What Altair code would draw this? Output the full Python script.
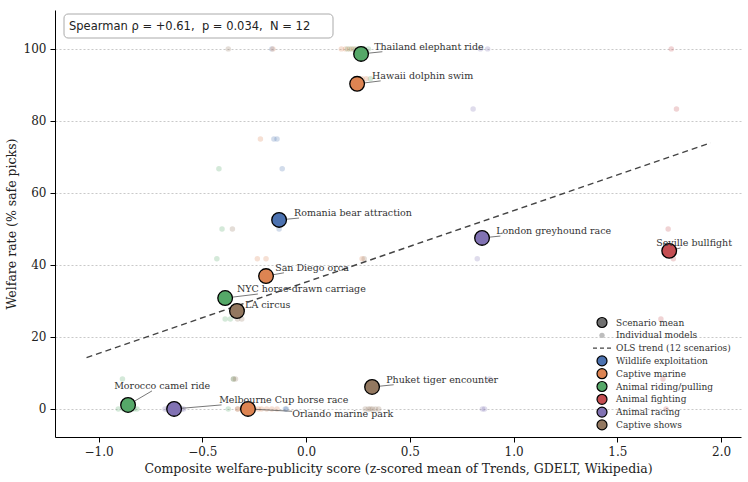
import altair as alt
import numpy as np
import pandas as pd

# ---- scenario-level data -------------------------------------------------
scenarios = [
    "Thailand elephant ride", "Hawaii dolphin swim", "Romania bear attraction",
    "London greyhound race", "Seville bullfight", "San Diego orca",
    "NYC horse-drawn carriage", "LA circus", "Phuket tiger encounter",
    "Morocco camel ride", "Melbourne Cup horse race", "Orlando marine park",
]
categories = [
    "Animal riding/pulling", "Captive marine", "Wildlife exploitation",
    "Animal racing", "Animal fighting", "Captive marine",
    "Animal riding/pulling", "Captive shows", "Captive shows",
    "Animal riding/pulling", "Animal racing", "Captive marine",
]
publicity = [0.265, 0.246, -0.130, 0.848, 1.750, -0.193, -0.390, -0.333, 0.318, -0.858, -0.636, -0.280]
welfare = [98.6, 90.3, 52.5, 47.5, 43.9, 36.9, 30.8, 27.2, 6.1, 1.1, 0.0, 0.0]

# ---- per-model safe-pick rates (x carries a small horizontal jitter) -----
model_x = {
    "Thailand elephant ride": [0.20, 0.22, 0.24, 0.26, 0.28, 0.30, 0.31],
    "Hawaii dolphin swim": [0.17, 0.19, 0.21, 0.23, 0.27, 0.29, 0.27],
    "Romania bear attraction": [-0.165, -0.155, -0.14, -0.115, -0.13, -0.10, -0.095],
    "London greyhound race": [0.84, 0.875, 0.805, 0.825, 0.885, 0.85, 0.86],
    "Seville bullfight": [1.76, 1.785, 1.745, 1.77, 1.71, 1.72, 1.735],
    "San Diego orca": [-0.16, -0.22, -0.235, -0.193, -0.19, -0.165, -0.14],
    "NYC horse-drawn carriage": [-0.42, -0.405, -0.43, -0.39, -0.365, -0.35, -0.375],
    "LA circus": [-0.375, -0.355, -0.33, -0.31, -0.34, -0.35, -0.33, -0.30],
    "Phuket tiger encounter": [0.28, 0.285, 0.30, 0.31, 0.32, 0.335, 0.35],
    "Morocco camel ride": [-0.885, -0.905, -0.88, -0.86, -0.845, -0.83, -0.815],
    "Melbourne Cup horse race": [-0.68, -0.665, -0.65, -0.635, -0.62, -0.60, -0.59],
    "Orlando marine park": [-0.33, -0.31, -0.29, -0.27, -0.25, -0.23, -0.215],
}
model_y = {
    "Thailand elephant ride": [100, 100, 100, 100, 100, 100, 91.7],
    "Hawaii dolphin swim": [100, 100, 100, 100, 91.7, 91.7, 41.7],
    "Romania bear attraction": [100, 75, 75, 66.7, 50, 0, 0],
    "London greyhound race": [100, 100, 83.3, 41.7, 8.3, 0, 0],
    "Seville bullfight": [100, 83.3, 50, 41.7, 25, 8.3, 0],
    "San Diego orca": [100, 75, 41.7, 41.7, 0, 0, 0],
    "NYC horse-drawn carriage": [66.7, 50, 41.7, 25, 25, 8.3, 0],
    "LA circus": [100, 50, 25, 25, 8.3, 8.3, 0, 0],
    "Phuket tiger encounter": [41.7, 0, 0, 0, 0, 0, 0],
    "Morocco camel ride": [8.3, 0, 0, 0, 0, 0, 0],
    "Melbourne Cup horse race": [0, 0, 0, 0, 0, 0, 0],
    "Orlando marine park": [0, 0, 0, 0, 0, 0, 0],
}

cat_order = ["Wildlife exploitation", "Captive marine", "Animal riding/pulling",
             "Animal fighting", "Animal racing", "Captive shows"]
cat_colors = ["#4C72B0", "#DD8452", "#55A868", "#C44E52", "#8172B3", "#937860"]

x_ticks = [-1.0, -0.5, 0.0, 0.5, 1.0, 1.5, 2.0]
y_ticks = [0, 20, 40, 60, 80, 100]
GAP = "\u00a0\u00a0"
stats_text = f"Spearman \u03c1 = +0.61,{GAP}p = 0.034,{GAP}N = 12"

# ---- layout --------------------------------------------------------------
W, H = 686, 427
x_dom = [-1.21, 2.096]
y_dom = [-7.8, 110.8]
SERIF = "DejaVu Serif"


def x_to_px(x):
    return (x - x_dom[0]) / (x_dom[1] - x_dom[0]) * W


def y_to_py(y):
    return (y_dom[1] - y) / (y_dom[1] - y_dom[0]) * H


def px_to_x(px):
    return x_dom[0] + px / W * (x_dom[1] - x_dom[0])


def py_to_y(py):
    return y_dom[1] - py / H * (y_dom[1] - y_dom[0])


# label anchor positions (left edge / vertical centre of each text)
label_x = [0.328, 0.318, -0.058, 0.916, 1.687, -0.149, -0.333, -0.294, 0.386, -0.925, -0.419, -0.067]
label_y = [100.6, 92.5, 54.4, 49.4, 46.1, 39.2, 33.3, 28.9, 8.1, 6.4, 2.5, -1.4]
CHAR_W = 5.15
HALF_H = 5.0

# ---- frames --------------------------------------------------------------
means = pd.DataFrame({
    "scenario": scenarios, "category": categories,
    "x": publicity, "y": welfare, "lx": label_x, "ly": label_y,
})

rows = []
for s, c in zip(scenarios, categories):
    for xv, yv in zip(model_x[s], model_y[s]):
        rows.append({"scenario": s, "category": c, "x": xv, "y": yv})
models = pd.DataFrame(rows)

# OLS trend across the scenario means
slope, intercept = np.polyfit(publicity, welfare, 1)
tx = np.array([min(publicity) - 0.2, max(publicity) + 0.2])
trend = pd.DataFrame({"x": tx, "y": intercept + slope * tx})

# leader lines from each marker to the edge of its label box
leaders = []
for s, mx, my, lx, ly in zip(scenarios, publicity, welfare, label_x, label_y):
    px, py = x_to_px(mx), y_to_py(my)
    w = len(s) * CHAR_W
    cx, cy = x_to_px(lx) + w / 2, y_to_py(ly)
    dx, dy = px - cx, py - cy
    sx = (w / 2) / abs(dx) if dx else np.inf
    sy = HALF_H / abs(dy) if dy else np.inf
    f = min(sx, sy)
    if f >= 1:
        continue
    ex, ey = cx + f * dx, cy + f * dy
    leaders.append({"x": mx, "y": my, "x2": px_to_x(ex), "y2": py_to_y(ey)})
leaders = pd.DataFrame(leaders)

# ---- encodings -----------------------------------------------------------
xs = alt.Scale(domain=x_dom, nice=False, zero=False)
ys = alt.Scale(domain=y_dom, nice=False, zero=False)
x_axis = alt.Axis(values=x_ticks, format=".1f", grid=False,
                  title="Composite welfare-publicity score (z-scored mean of Trends, GDELT, Wikipedia)")
y_axis = alt.Axis(values=y_ticks, format="d", grid=True,
                  title="Welfare rate (% safe picks)")
color = alt.Color("category:N", scale=alt.Scale(domain=cat_order, range=cat_colors), legend=None)


def X(field="x"):
    return alt.X(f"{field}:Q", scale=xs, axis=x_axis)


def Y(field="y"):
    return alt.Y(f"{field}:Q", scale=ys, axis=y_axis)


dots = alt.Chart(models).mark_circle(size=30, opacity=0.25).encode(x=X(), y=Y(), color=color)

trend_line = alt.Chart(trend).mark_line(
    color="#444444", strokeWidth=1.4, strokeDash=[6, 4]
).encode(x=X(), y=Y())

leader_rules = alt.Chart(leaders).mark_rule(color="#555555", strokeWidth=0.8).encode(
    x=X(), y=Y(), x2="x2:Q", y2="y2:Q")

mean_pts = alt.Chart(means).mark_circle(
    size=215, opacity=1, stroke="black", strokeWidth=1.3
).encode(x=X(), y=Y(), color=color)

labels = alt.Chart(means).mark_text(
    align="left", baseline="middle", font=SERIF, fontSize=9.5, color="#333333"
).encode(x=X("lx"), y=Y("ly"), text="scenario:N")

# ---- annotation box ------------------------------------------------------
box = alt.Chart(pd.DataFrame({"k": [0]})).mark_rect(
    fill="white", stroke="#aaaaaa", strokeWidth=1, cornerRadius=4
).encode(x=alt.value(9), x2=alt.value(278), y=alt.value(4), y2=alt.value(28))

box_text = alt.Chart(pd.DataFrame({"k": [0]})).mark_text(
    text=stats_text, align="left", baseline="middle",
    font="DejaVu Sans", fontSize=11.5, color="#222222"
).encode(x=alt.value(14), y=alt.value(16.5))

# ---- hand-built legend ---------------------------------------------------
legend_labels = ["Scenario mean", "Individual models", "OLS trend (12 scenarios)"] + cat_order
legend_kind = ["mean", "model", "trend"] + ["cat"] * len(cat_order)
legend_fill = ["#707070", "#bdbdbd", "#444444"] + cat_colors
LX_SYM, LX_TXT, LY0, LDY = 547, 561, 312.5, 12.8

leg = pd.DataFrame({
    "label": legend_labels, "kind": legend_kind, "fill": legend_fill,
})
leg["sy"] = [py_to_y(LY0 + i * LDY) for i in range(len(leg))]
leg["sx"] = px_to_x(LX_SYM)
leg["tx"] = px_to_x(LX_TXT)
leg["dx1"] = px_to_x(LX_SYM - 9)
leg["dx2"] = px_to_x(LX_SYM + 9)

leg_big = alt.Chart(leg[leg.kind.isin(["mean", "cat"])]).mark_circle(
    size=100, opacity=1, stroke="black", strokeWidth=1.2
).encode(x=X("sx"), y=Y("sy"), fill=alt.Fill("fill:N", scale=None))

leg_small = alt.Chart(leg[leg.kind == "model"]).mark_circle(
    size=28, opacity=1
).encode(x=X("sx"), y=Y("sy"), fill=alt.Fill("fill:N", scale=None))

leg_dash = alt.Chart(leg[leg.kind == "trend"]).mark_rule(
    color="#444444", strokeWidth=1.4, strokeDash=[4, 3]
).encode(x=X("dx1"), x2="dx2:Q", y=Y("sy"))

leg_text = alt.Chart(leg).mark_text(
    align="left", baseline="middle", font=SERIF, fontSize=9, color="#333333"
).encode(x=X("tx"), y=Y("sy"), text="label:N")

chart = alt.layer(
    dots, trend_line, leader_rules, mean_pts, labels,
    box, box_text, leg_big, leg_small, leg_dash, leg_text,
).properties(
    width=W, height=H,
    padding={"left": 55, "top": 10, "right": 7, "bottom": 45},
    autosize=alt.AutoSizeParams(type="none"),
    background="white",
).configure_view(
    stroke=None
).configure_axis(
    domainColor="black", domainWidth=1, tickColor="black", tickSize=5, tickWidth=1,
    labelFont=SERIF, labelFontSize=12, labelColor="#222222", labelPadding=4,
    titleFont=SERIF, titleFontSize=12.5, titleFontWeight="normal", titleColor="#222222",
    gridColor="#bbbbbb", gridDash=[2, 2], gridWidth=0.8,
).configure_axisX(
    titlePadding=5
).configure_axisY(
    titlePadding=5
)

chart.save("out.html", embed_options={"renderer": "svg", "actions": False})
